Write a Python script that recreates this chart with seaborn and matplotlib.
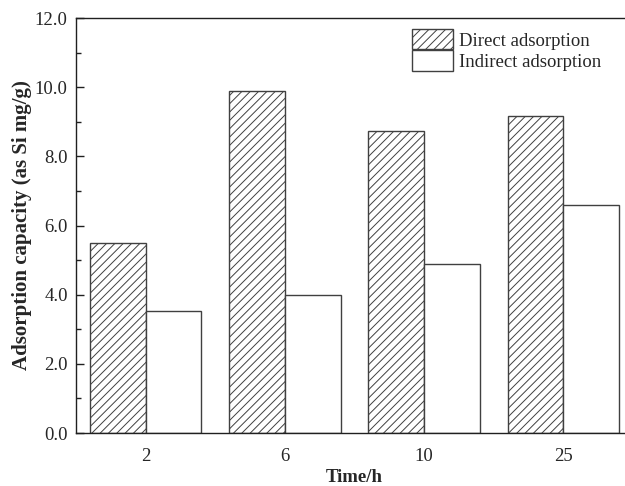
import matplotlib
matplotlib.use("Agg")
import matplotlib.pyplot as plt
import seaborn as sns
import pandas as pd
from matplotlib.patches import Patch
from matplotlib.ticker import MultipleLocator, FormatStrFormatter

times = ["2", "6", "10", "25"]
direct = [5.49, 9.88, 8.74, 9.16]
indirect = [3.53, 3.99, 4.88, 6.59]
series_names = ["Direct adsorption", "Indirect adsorption"]

df = pd.DataFrame({
    "Time": times * 2,
    "Value": direct + indirect,
    "Series": [series_names[0]] * len(times) + [series_names[1]] * len(times),
})

sns.set_theme(style="white")
plt.rcParams["font.family"] = ["Liberation Serif", "DejaVu Serif"]
plt.rcParams["hatch.linewidth"] = 0.7
plt.rcParams["hatch.color"] = "#505050"

FS = 13.5

fig = plt.figure(figsize=(6.25, 4.86), dpi=100)
ax = fig.add_axes([76 / 625, 1 - 433 / 486, (633 - 76) / 625, (433 - 18) / 486])

sns.barplot(data=df, x="Time", y="Value", hue="Series", order=times,
            hue_order=series_names, width=0.8, ax=ax, legend=False,
            palette=["white", "white"], edgecolor="#404040", linewidth=1.0,
            saturation=1)

hatches = ["////", ""]
for cont, h in zip(ax.containers, hatches):
    for bar in cont:
        bar.set_hatch(h)
        bar.set_edgecolor("#404040")

ax.set_xlim(-0.5, 3.5)
ax.set_ylim(0, 12)
ax.yaxis.set_major_locator(MultipleLocator(2))
ax.yaxis.set_minor_locator(MultipleLocator(1))
ax.yaxis.set_major_formatter(FormatStrFormatter("%.1f"))

for s in ax.spines.values():
    s.set_color("#202020")
    s.set_linewidth(1.0)

ax.tick_params(axis="y", which="major", direction="in", length=6, width=1,
               labelsize=FS, pad=6, left=True, right=False, color="#202020")
ax.tick_params(axis="y", which="minor", direction="in", length=3.5, width=1,
               left=True, right=False, color="#202020")
ax.tick_params(axis="x", which="both", length=0, labelsize=FS, pad=11)

ax.set_xlabel("Time/h", fontsize=FS, fontweight="bold", labelpad=3)
ax.set_ylabel("Adsorption capacity (as Si mg/g)", fontsize=15,
              fontweight="bold", labelpad=2)

handles = [Patch(facecolor="white", edgecolor="#404040", hatch="////", linewidth=1.0),
           Patch(facecolor="white", edgecolor="#404040", linewidth=1.0)]
ax.legend(handles, series_names, loc="upper left",
          bbox_to_anchor=((412 - 76) / (633 - 76), 1 - 11 / 415),
          frameon=False, fontsize=FS, handlelength=2.2, handleheight=1.3,
          handletextpad=0.3, labelspacing=0.05, borderaxespad=0.0,
          borderpad=0.0)

fig.savefig("out.png", dpi=100)
